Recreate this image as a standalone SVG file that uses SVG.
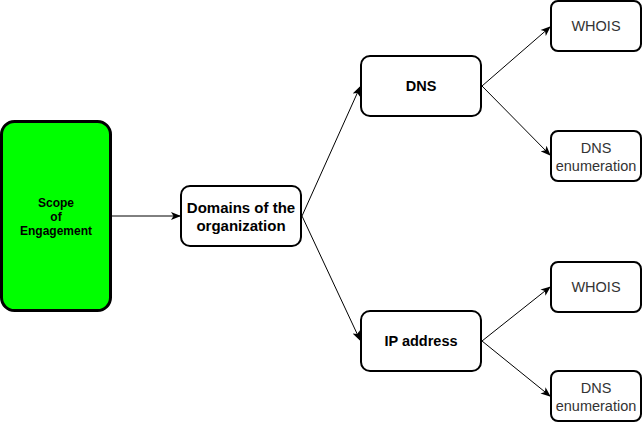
<svg xmlns="http://www.w3.org/2000/svg" width="643" height="422" viewBox="0 0 643 422">
<style>
.box{fill:#ffffff;stroke:#000000;stroke-width:2}
.b{font-family:"Liberation Sans",Arial,sans-serif;font-weight:bold;fill:#000000;text-anchor:middle}
.r{font-family:"Liberation Sans",Arial,sans-serif;font-size:14.5px;fill:#333333;text-anchor:middle}
.c{fill:none;stroke:#000000;stroke-width:1}
</style>
<defs>
<marker id="ah" viewBox="0 0 10 10" refX="9" refY="5" markerWidth="10" markerHeight="10" markerUnits="userSpaceOnUse" orient="auto">
<path d="M0,1 L10,5 L0,9 L2.5,5 Z" fill="#000000"/>
</marker>
</defs>
<g id="connectors">
<line class="c" x1="112" y1="216" x2="180" y2="216" marker-end="url(#ah)"/>
<line class="c" x1="302" y1="216" x2="360" y2="87" marker-end="url(#ah)"/>
<line class="c" x1="302" y1="216" x2="360" y2="340" marker-end="url(#ah)"/>
<line class="c" x1="482" y1="86" x2="550" y2="27" marker-end="url(#ah)"/>
<line class="c" x1="482" y1="86" x2="550" y2="155" marker-end="url(#ah)"/>
<line class="c" x1="482" y1="341" x2="550" y2="287" marker-end="url(#ah)"/>
<line class="c" x1="482" y1="341" x2="550" y2="396" marker-end="url(#ah)"/>
</g>
<g id="scope">
<rect x="1.5" y="121.5" width="109" height="189" rx="13" fill="#00ff00" stroke="#000000" stroke-width="3"/>
<text class="b" font-size="12" x="56" y="207">Scope</text>
<text class="b" font-size="12" x="56" y="221">of</text>
<text class="b" font-size="12" x="56" y="235">Engagement</text>
</g>
<g id="domains">
<rect class="box" x="181" y="186" width="120" height="60" rx="9"/>
<text class="b" font-size="15" x="241" y="213">Domains of the</text>
<text class="b" font-size="15" x="241" y="231">organization</text>
</g>
<g id="dns">
<rect class="box" x="361" y="56" width="120" height="60" rx="9"/>
<text class="b" font-size="14.5" x="421" y="91">DNS</text>
</g>
<g id="ip">
<rect class="box" x="361" y="311" width="120" height="60" rx="9"/>
<text class="b" font-size="14.5" x="421" y="346">IP address</text>
</g>
<g id="whois1">
<rect class="box" x="551" y="1" width="90" height="50" rx="7"/>
<text class="r" x="596" y="31">WHOIS</text>
</g>
<g id="dnsenum1">
<rect class="box" x="551" y="131" width="90" height="50" rx="7"/>
<text class="r" x="596" y="153">DNS</text>
<text class="r" x="596" y="171">enumeration</text>
</g>
<g id="whois2">
<rect class="box" x="551" y="262" width="90" height="50" rx="7"/>
<text class="r" x="596" y="292">WHOIS</text>
</g>
<g id="dnsenum2">
<rect class="box" x="551" y="371" width="90" height="50" rx="7"/>
<text class="r" x="596" y="393">DNS</text>
<text class="r" x="596" y="411">enumeration</text>
</g>
</svg>
